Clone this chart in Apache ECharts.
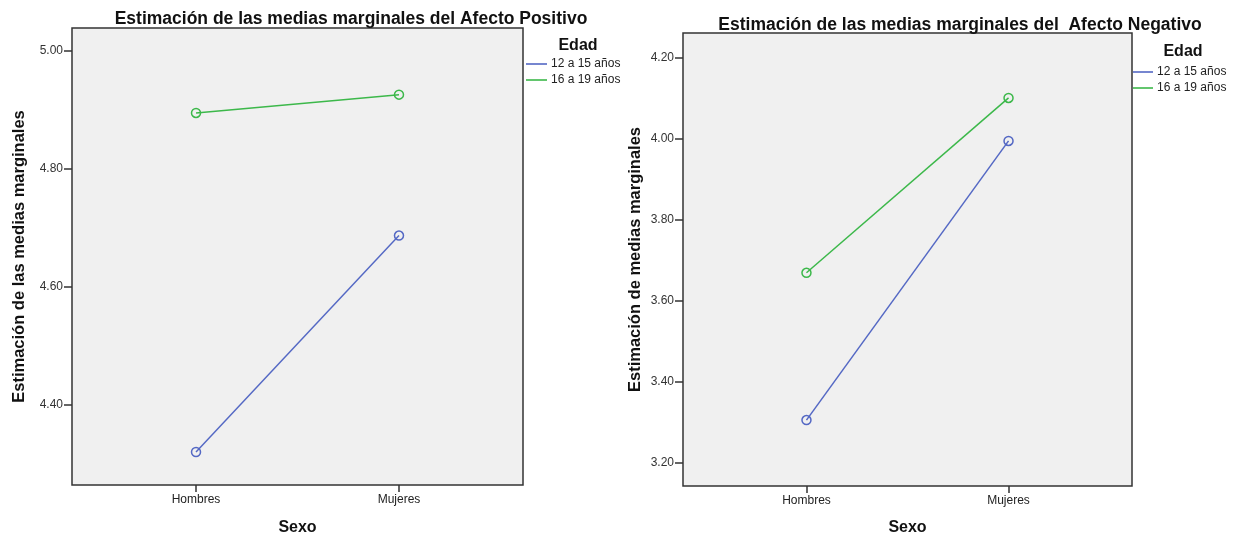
<!DOCTYPE html>
<html>
<head>
<meta charset="utf-8">
<script src="https://cdn.jsdelivr.net/npm/echarts@6/dist/echarts.min.js"></script>
<style>
html,body{margin:0;padding:0;background:#fff;}
#main{width:1238px;height:541px;}
</style>
</head>
<body>
<div id="main"></div>
<script>
// ---- Data ----
const categories = ['Hombres', 'Mujeres'];
const seriesNames = ['12 a 15 años', '16 a 19 años'];
const positivo_12a15 = [4.320, 4.687];
const positivo_16a19 = [4.895, 4.926];
const negativo_12a15 = [3.306, 3.994];
const negativo_16a19 = [3.669, 4.100];
const ticksPositivo = [4.40, 4.60, 4.80, 5.00];
const ticksNegativo = [3.20, 3.40, 3.60, 3.80, 4.00, 4.20];

const FONT = "'Liberation Sans', Arial, sans-serif";
const NARROW = "'Liberation Sans Narrow', 'Arial Narrow', 'Liberation Sans', sans-serif";
const BLUE = '#5468c4';
const GREEN = '#3cb84a';
const catPos = categories.map((c, i) => i + 1);

function pts(arr) { return arr.map((v, i) => [catPos[i], v]); }

function xAxis(gridIndex, gap) {
  return {
    type: 'value', gridIndex: gridIndex, min: 0.389, max: 2.611,
    name: 'Sexo', nameLocation: 'middle', nameGap: gap,
    nameTextStyle: { fontFamily: FONT, fontSize: 16, fontWeight: 'bold', color: '#111' },
    axisLine: { show: false },
    splitLine: { show: false },
    axisTick: { show: true, length: 7, lineStyle: { color: '#333', width: 1.5 }, customValues: catPos },
    axisLabel: { customValues: catPos, margin: 9, fontFamily: FONT, fontSize: 12, color: '#222',
      formatter: v => categories[Math.round(v) - 1] || '' }
  };
}
function yAxis(gridIndex, min, max, ticks, name, gap) {
  return {
    type: 'value', gridIndex: gridIndex, min: min, max: max,
    name: name, nameLocation: 'middle', nameGap: gap,
    nameTextStyle: { fontFamily: FONT, fontSize: 16.5, fontWeight: 'bold', color: '#111' },
    axisLine: { show: false },
    splitLine: { show: false },
    axisTick: { show: true, length: 8, lineStyle: { color: '#333', width: 1.5 }, customValues: ticks },
    axisLabel: { customValues: ticks, margin: 9, fontFamily: FONT, fontSize: 12, color: '#333',
      formatter: v => v.toFixed(2) }
  };
}
function lineSeries(name, color, xi, yi, arr) {
  return {
    type: 'line', name: name, xAxisIndex: xi, yAxisIndex: yi, data: pts(arr),
    symbol: 'circle', symbolSize: 9, color: color,
    lineStyle: { color: color, width: 1.5 },
    itemStyle: { color: 'rgba(0,0,0,0)', borderColor: color, borderWidth: 1.5 },
    emphasis: { disabled: true }, animation: false
  };
}
function legend(left, top, w) {
  return {
    orient: 'vertical', left: left, top: top, padding: 0, icon: 'rect', itemWidth: w, itemHeight: 1.6,
    itemGap: 2, selectedMode: false,
    textStyle: { fontFamily: FONT, fontSize: 12, color: '#222', lineHeight: 14, padding: [0, 0, 0, -1] },
    data: [
      { name: seriesNames[0], itemStyle: { color: BLUE, borderWidth: 0 }, lineStyle: { width: 0 } },
      { name: seriesNames[1], itemStyle: { color: GREEN, borderWidth: 0 }, lineStyle: { width: 0 } }
    ]
  };
}

const chart = echarts.init(document.getElementById('main'), null, { renderer: 'canvas' });
chart.setOption({
  backgroundColor: '#fff',
  animation: false,
  title: [
    { text: 'Estimación de las medias marginales del Afecto Positivo', left: 346, top: 5, textAlign: 'center',
      textStyle: { fontFamily: FONT, fontSize: 17.5, fontWeight: 'bold', color: '#111' } },
    { text: 'Estimación de las medias marginales del  Afecto Negativo', left: 955, top: 11, textAlign: 'center',
      textStyle: { fontFamily: FONT, fontSize: 17.5, fontWeight: 'bold', color: '#111' } },
    { text: 'Edad', left: 573, top: 33, textAlign: 'center',
      textStyle: { fontFamily: NARROW, fontSize: 16, fontWeight: 'bold', color: '#111' } },
    { text: 'Edad', left: 1178, top: 39, textAlign: 'center',
      textStyle: { fontFamily: NARROW, fontSize: 16, fontWeight: 'bold', color: '#111' } }
  ],
  legend: [legend(526, 57, 21), legend(1133, 65, 20)],
  grid: [
    { left: 72, top: 28, width: 451, height: 461, show: true, backgroundColor: '#f0f0f0',
      borderColor: '#333', borderWidth: 1.5, containLabel: false },
    { left: 683, top: 33, width: 449, height: 454, show: true, backgroundColor: '#f0f0f0',
      borderColor: '#333', borderWidth: 1.5, containLabel: false }
  ],
  xAxis: [xAxis(0, 35), xAxis(1, 34)],
  yAxis: [
    yAxis(0, 4.264, 5.039, ticksPositivo, 'Estimación de las medias marginales', 44),
    yAxis(1, 3.1435, 4.26, ticksNegativo, 'Estimación de medias marginales', 39)
  ],
  series: [
    lineSeries(seriesNames[0], BLUE, 0, 0, positivo_12a15),
    lineSeries(seriesNames[1], GREEN, 0, 0, positivo_16a19),
    lineSeries(seriesNames[0], BLUE, 1, 1, negativo_12a15),
    lineSeries(seriesNames[1], GREEN, 1, 1, negativo_16a19)
  ]
});
</script>
</body>
</html>
